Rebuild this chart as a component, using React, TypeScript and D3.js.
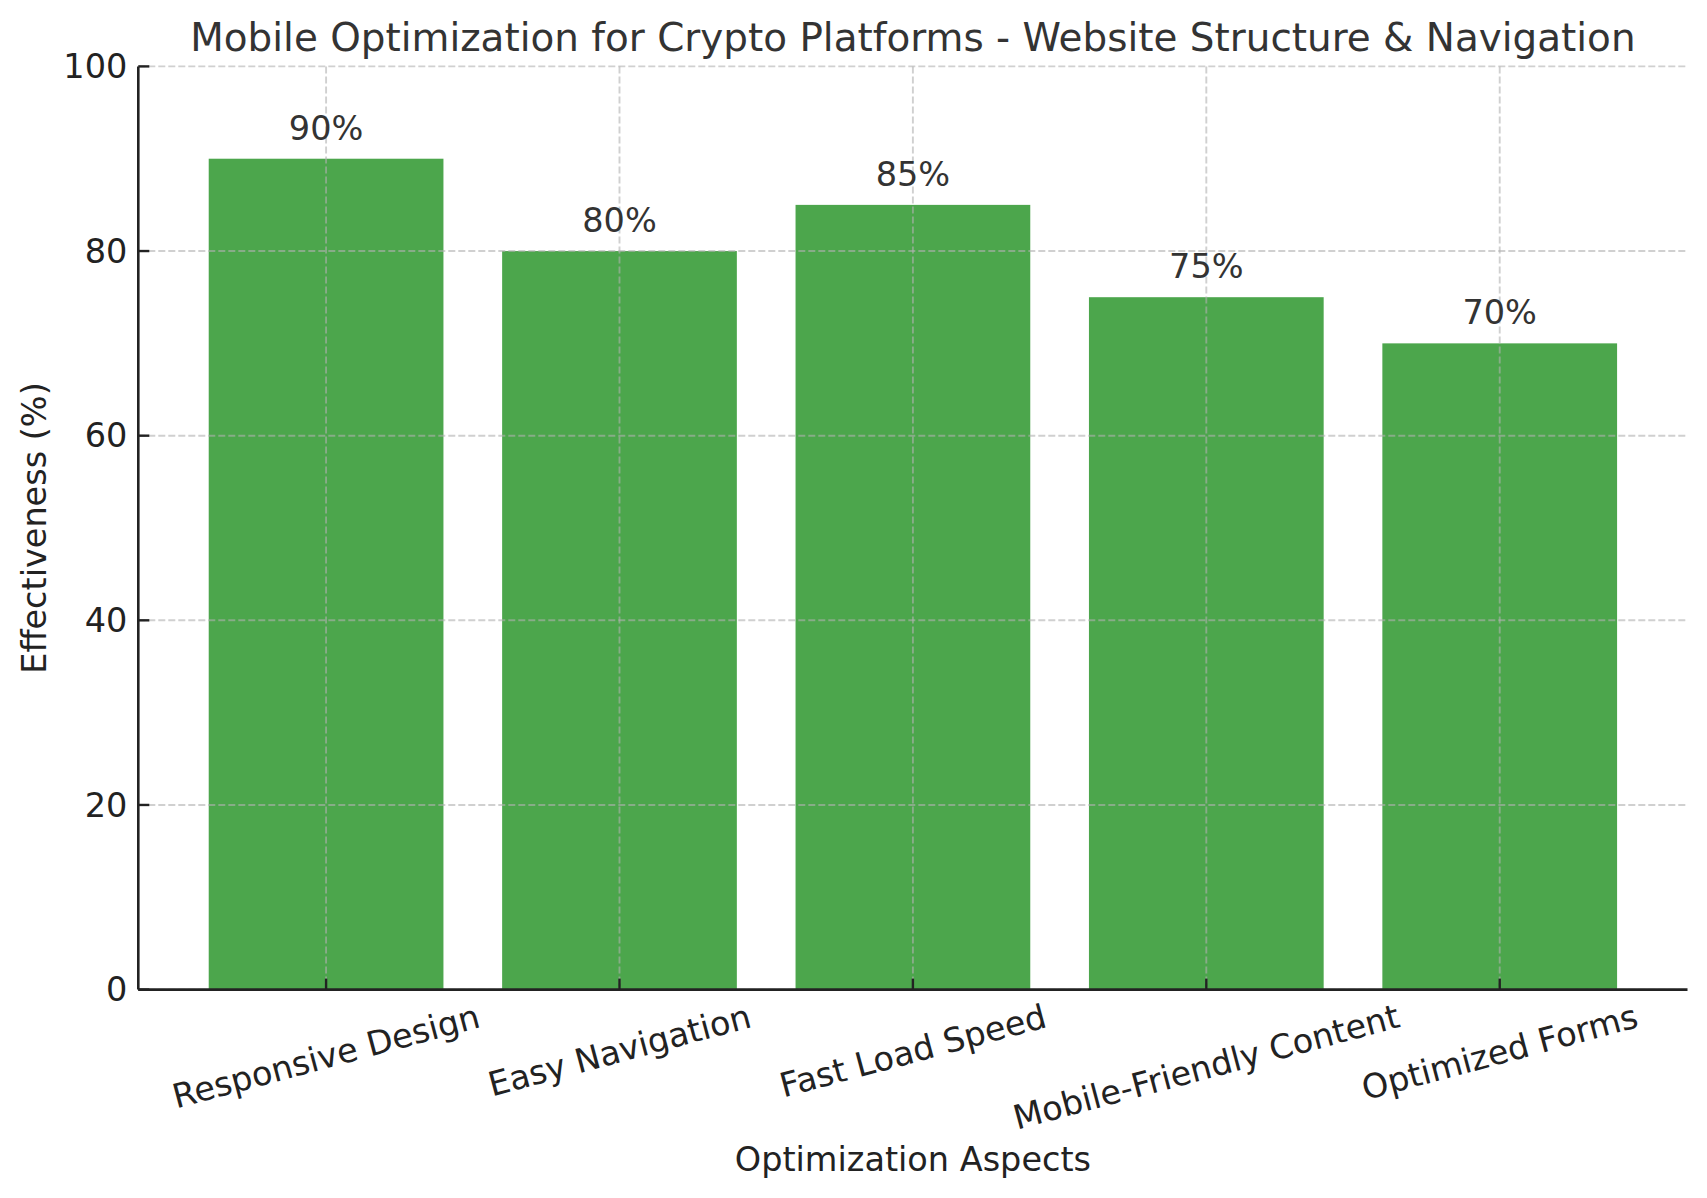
import { useEffect, useRef } from "react";
import * as d3 from "d3";

const categories = [
  "Responsive Design",
  "Easy Navigation",
  "Fast Load Speed",
  "Mobile-Friendly Content",
  "Optimized Forms",
];
const effectiveness = [90, 80, 85, 75, 70];
const yTicks = [0, 20, 40, 60, 80, 100];

const W = 1707;
const H = 1198;
const FONT = "DejaVu Sans, sans-serif";

export default function App() {
  const svgRef = useRef<SVGSVGElement>(null);

  useEffect(() => {
    if (!svgRef.current) return;
    document.body.style.margin = "0";

    const svg = d3.select(svgRef.current);
    svg.selectAll("*").remove();

    const margin = { top: 66.4, right: 19.5, bottom: 208.4, left: 138.3 };
    const width = W - margin.left - margin.right;
    const height = H - margin.top - margin.bottom;
    const fs = 33.5;

    const g = svg
      .append("g")
      .attr("transform", `translate(${margin.left},${margin.top})`);

    const x = d3
      .scaleBand<string>()
      .domain(categories)
      .range([0, width])
      .paddingInner(0.2)
      .paddingOuter(0.24);

    const y = d3.scaleLinear().domain([0, 100]).range([height, 0]);

    // Bars
    g.selectAll("rect.bar")
      .data(effectiveness)
      .enter()
      .append("rect")
      .attr("class", "bar")
      .attr("x", (_, i) => x(categories[i])!)
      .attr("y", (d) => y(d))
      .attr("width", x.bandwidth())
      .attr("height", (d) => height - y(d))
      .attr("fill", "#008000")
      .attr("fill-opacity", 0.7);

    // Grid (drawn over the bars)
    const grid = g.append("g").attr("stroke", "#b0b0b0").attr("stroke-opacity", 0.6)
      .attr("stroke-width", 1.9).attr("stroke-dasharray", "7,3");
    yTicks.forEach((t) => {
      grid.append("line").attr("x1", 0).attr("x2", width).attr("y1", y(t)).attr("y2", y(t));
    });
    categories.forEach((c) => {
      const cx = x(c)! + x.bandwidth() / 2;
      grid.append("line").attr("x1", cx).attr("x2", cx).attr("y1", 0).attr("y2", height);
    });

    // Ticks (inward)
    const tickLen = 11;
    yTicks.forEach((t) => {
      g.append("line").attr("x1", 0).attr("x2", tickLen).attr("y1", y(t)).attr("y2", y(t))
        .attr("stroke", "#222").attr("stroke-width", 2.4);
      g.append("text")
        .attr("x", -11)
        .attr("y", y(t))
        .attr("dy", 0.346 * fs)
        .attr("text-anchor", "end")
        .attr("font-family", FONT)
        .attr("font-size", fs)
        .attr("fill", "#222")
        .text(String(t));
    });

    categories.forEach((c) => {
      const cx = x(c)! + x.bandwidth() / 2;
      g.append("line").attr("x1", cx).attr("x2", cx).attr("y1", height).attr("y2", height - tickLen)
        .attr("stroke", "#222").attr("stroke-width", 2.4);
      const t = g.append("text")
        .attr("text-anchor", "middle")
        .attr("font-family", FONT)
        .attr("font-size", fs)
        .attr("fill", "#222")
        .text(c);
      const w = (t.node() as SVGTextElement).getComputedTextLength();
      const hText = 1.164 * fs;
      const a = (15 * Math.PI) / 180;
      const bboxH = w * Math.sin(a) + hText * Math.cos(a);
      const cy = height + 7 + bboxH / 2;
      t.attr("transform", `translate(${cx},${cy}) rotate(-15)`).attr("y", 0.346 * fs);
    });

    // Spines
    g.append("line").attr("x1", 0).attr("x2", 0).attr("y1", 0).attr("y2", height)
      .attr("stroke", "#222").attr("stroke-width", 2.6);
    g.append("line").attr("x1", 0).attr("x2", width).attr("y1", height).attr("y2", height)
      .attr("stroke", "#222").attr("stroke-width", 2.6);

    // Value labels
    g.selectAll("text.value")
      .data(effectiveness)
      .enter()
      .append("text")
      .attr("class", "value")
      .attr("x", (_, i) => x(categories[i])! + x.bandwidth() / 2)
      .attr("y", (d) => y(d + 1) - 0.236 * fs - 2)
      .attr("text-anchor", "middle")
      .attr("font-family", FONT)
      .attr("font-size", fs)
      .attr("fill", "#333")
      .text((d) => `${d}%`);

    // Title
    svg.append("text")
      .attr("x", margin.left + width / 2)
      .attr("y", 51)
      .attr("text-anchor", "middle")
      .attr("font-family", FONT)
      .attr("font-size", 38.9)
      .attr("fill", "#333")
      .text("Mobile Optimization for Crypto Platforms - Website Structure & Navigation");

    // Axis labels
    svg.append("text")
      .attr("x", margin.left + width / 2)
      .attr("y", 1171)
      .attr("text-anchor", "middle")
      .attr("font-family", FONT)
      .attr("font-size", fs)
      .attr("fill", "#222")
      .text("Optimization Aspects");

    svg.append("text")
      .attr("transform", `translate(46,${margin.top + height / 2}) rotate(-90)`)
      .attr("text-anchor", "middle")
      .attr("font-family", FONT)
      .attr("font-size", fs)
      .attr("fill", "#222")
      .text("Effectiveness (%)");
  }, []);

  return (
    <svg
      ref={svgRef}
      width={W}
      height={H}
      style={{ display: "block", background: "#fff" }}
    ></svg>
  );
}
